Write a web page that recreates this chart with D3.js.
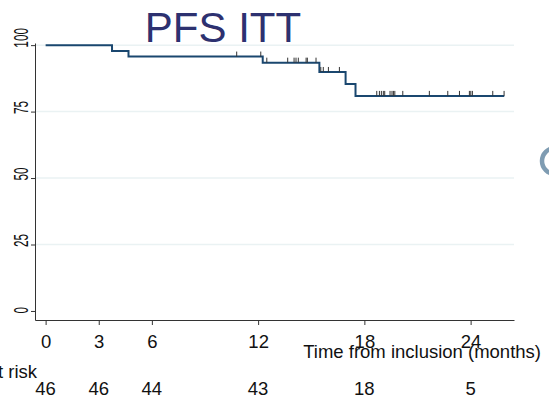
<!DOCTYPE html>
<html>
<head>
<meta charset="utf-8">
<script src="https://cdn.jsdelivr.net/npm/d3@7"></script>
<style>
  body { margin: 0; background: #fff; }
  svg { display: block; font-family: Arial, "Liberation Sans", sans-serif; }
</style>
</head>
<body>
<div id="km-chart"></div>
<script>
// Kaplan-Meier steps (months, % progression-free)
var stepTimes = [0, 3.75, 4.68, 12.26, 15.46, 16.94, 17.50];
var survival = [100, 97.8, 95.7, 93.4, 89.9, 85.4, 80.9];
var lastTime = 25.9;

// censored observations
var censorTimes = [10.79, 12.15, 12.49, 13.67, 14.03, 14.14, 14.27, 14.71, 14.78, 15.27,
  15.54, 15.68, 15.97, 16.59,
  18.70, 18.85, 18.96, 19.07, 19.15, 19.45, 19.56, 19.64, 19.72, 20.17,
  21.67, 22.71, 23.37, 23.93, 24.01, 24.10, 25.25, 25.89];

var xTicks = [0, 3, 6, 12, 18, 24];
var yTicks = [0, 25, 50, 75, 100];
var atRisk = [46, 46, 44, 43, 18, 5];

var width = 549, height = 397;

var svg = d3.select('#km-chart')
  .append('svg')
  .attr('width', width)
  .attr('height', height);

var x = d3.scaleLinear().domain([-0.6, 26.45]).range([35, 514]);
var y = d3.scaleLinear().domain([-3.4, 100.8]).range([320, 43]);

// gridlines
svg.append('g')
  .selectAll('line')
  .data(yTicks.filter(function (d) { return d > 0; }))
  .enter()
  .append('line')
  .attr('x1', 35).attr('x2', 514)
  .attr('y1', function (d) { return y(d); })
  .attr('y2', function (d) { return y(d); })
  .attr('stroke', '#eaf2f3')
  .attr('stroke-width', 1.5);

// title
svg.append('text')
  .attr('x', 223).attr('y', 42)
  .attr('text-anchor', 'middle')
  .attr('font-size', '42px')
  .attr('fill', '#2d3170')
  .text('PFS ITT');

// y-axis
var yAxis = svg.append('g')
  .attr('transform', 'translate(35,0)')
  .call(d3.axisLeft(y).tickValues(yTicks).tickSize(4).tickSizeOuter(0));
yAxis.select('.domain').attr('stroke', '#333');
yAxis.selectAll('.tick line').attr('stroke', '#333');
yAxis.selectAll('.tick text')
  .attr('x', null).attr('dy', null)
  .attr('transform', 'translate(-7,2) rotate(-90) scale(0.6,1)')
  .attr('text-anchor', 'start')
  .attr('font-size', '19.5px')
  .attr('fill', '#111');

// x-axis
var xAxis = svg.append('g')
  .attr('transform', 'translate(0,320)')
  .call(d3.axisBottom(x).tickValues(xTicks).tickSize(5).tickSizeOuter(0));
xAxis.select('.domain').attr('stroke', '#333');
xAxis.selectAll('.tick line').attr('stroke', '#333');
xAxis.selectAll('.tick text')
  .attr('y', 28).attr('dy', null)
  .attr('font-size', '18.5px')
  .attr('fill', '#111');

svg.append('text')
  .attr('x', 541).attr('y', 358)
  .attr('text-anchor', 'end')
  .attr('font-size', '18.5px')
  .attr('fill', '#111')
  .text('Time from inclusion (months)');

// number at risk
svg.append('text')
  .attr('x', 37).attr('y', 378)
  .attr('text-anchor', 'end')
  .attr('font-size', '18.5px')
  .attr('fill', '#111')
  .text('Number at risk');

svg.append('g')
  .selectAll('text')
  .data(atRisk)
  .enter()
  .append('text')
  .attr('x', function (d, i) { return x(xTicks[i]); })
  .attr('y', 395)
  .attr('text-anchor', 'middle')
  .attr('font-size', '18.5px')
  .attr('fill', '#111')
  .text(function (d) { return d; });

// KM curve
var steps = stepTimes.map(function (t, i) { return { t: t, s: survival[i] }; });
steps.push({ t: lastTime, s: survival[survival.length - 1] });

var line = d3.line()
  .x(function (d) { return x(d.t); })
  .y(function (d) { return y(d.s); })
  .curve(d3.curveStepAfter);

svg.append('path')
  .datum(steps)
  .attr('d', line)
  .attr('fill', 'none')
  .attr('stroke', '#1a476f')
  .attr('stroke-width', 2);

function survAt(t) {
  var s = survival[0];
  stepTimes.forEach(function (st, i) { if (t >= st) s = survival[i]; });
  return s;
}

svg.append('g')
  .selectAll('line')
  .data(censorTimes)
  .enter()
  .append('line')
  .attr('x1', function (d) { return x(d); })
  .attr('x2', function (d) { return x(d); })
  .attr('y1', function (d) { return y(survAt(d)); })
  .attr('y2', function (d) { return y(survAt(d)) - 5; })
  .attr('stroke', '#333')
  .attr('stroke-width', 1);

// stray mark at right edge
svg.append('circle')
  .attr('cx', 555).attr('cy', 161).attr('r', 13)
  .attr('fill', 'none')
  .attr('stroke', '#7f9cb2')
  .attr('stroke-width', 4.5);
</script>
</body>
</html>
